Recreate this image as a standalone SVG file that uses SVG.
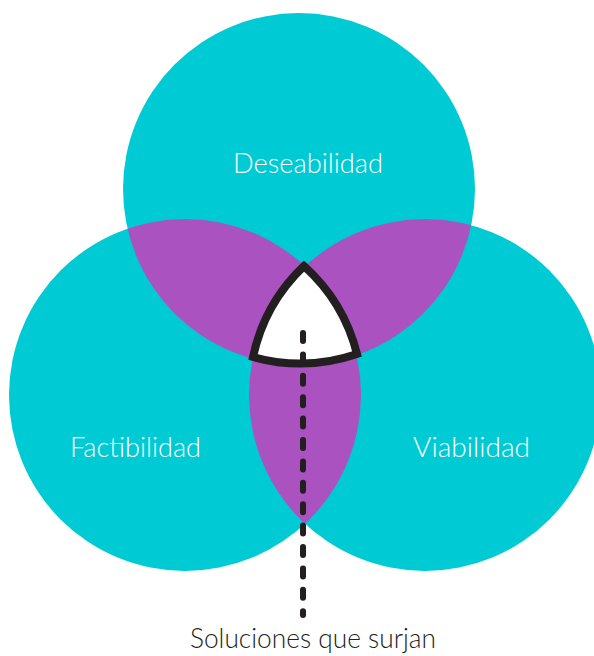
<svg xmlns="http://www.w3.org/2000/svg" width="594" height="656" viewBox="0 0 594 656">
  <style>
    .circ { fill: #00CAD4; }
    .lens { fill: #AB52C1; }
    .lbl { font-family: "Lato", "Open Sans", "Liberation Sans", sans-serif; font-weight: 300; font-size: 28px; fill: #FFFFFF; }
    .cap { font-family: "Lato", "Open Sans", "Liberation Sans", sans-serif; font-weight: 300; font-size: 27px; fill: #231F20; }
  </style>
  <defs>
    <clipPath id="clipTop"><circle cx="299" cy="189" r="176"/></clipPath>
    <clipPath id="clipLeft"><circle cx="185" cy="395" r="176"/></clipPath>
  </defs>
  <rect width="594" height="656" fill="#FFFFFF"/>
  <g id="deseabilidad">
    <circle class="circ" cx="299" cy="189" r="176"/>
  </g>
  <g id="factibilidad">
    <circle class="circ" cx="185" cy="395" r="176"/>
  </g>
  <g id="viabilidad">
    <circle class="circ" cx="425" cy="395" r="176"/>
  </g>
  <g id="overlaps">
    <circle class="lens" cx="185" cy="395" r="176" clip-path="url(#clipTop)"/>
    <circle class="lens" cx="425" cy="395" r="176" clip-path="url(#clipTop)"/>
    <circle class="lens" cx="425" cy="395" r="176" clip-path="url(#clipLeft)"/>
  </g>
  <g id="soluciones">
    <path d="M304,266 A176 176 0 0 0 253,357 A176 176 0 0 0 357,354 A176 176 0 0 0 304,266 Z" fill="#FFFFFF" stroke="#231F20" stroke-width="8" stroke-linejoin="miter"/>
  </g>
  <g id="connectors">
    <path d="M303,333 L303,615" fill="none" stroke="#231F20" stroke-width="6" stroke-linecap="round" stroke-dasharray="8 13.4"/>
  </g>
  <g id="labels">
    <text class="lbl" x="308" y="173" text-anchor="middle" textLength="150" lengthAdjust="spacingAndGlyphs">Deseabilidad</text>
    <text class="lbl" x="135.5" y="457" text-anchor="middle" textLength="131" lengthAdjust="spacingAndGlyphs">Factibilidad</text>
    <text class="lbl" x="471.5" y="457" text-anchor="middle" textLength="117" lengthAdjust="spacingAndGlyphs">Viabilidad</text>
    <text class="cap" x="313" y="648" text-anchor="middle" textLength="246" lengthAdjust="spacingAndGlyphs">Soluciones que surjan</text>
  </g>
</svg>
